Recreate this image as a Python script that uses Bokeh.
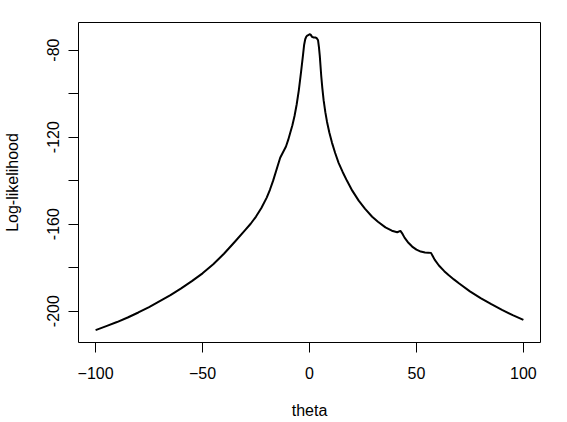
from bokeh.plotting import figure
from bokeh.models import Range1d, FixedTicker, ColumnDataSource
from bokeh.embed import file_html
from bokeh.resources import INLINE

# values
theta = [-100, -95, -90, -85, -80, -75, -70, -65, -60, -55, -50, -45, -40, -35,
         -30, -27.5, -25, -22.5, -20, -18.5, -17, -15, -13.7, -12.5, -11, -10, -9,
         -8, -7, -6, -5, -4, -3, -2.5, -2, -1.5, -1, -0.4, 0.2, 0.6, 1.2, 2, 2.7,
         3.4, 4.0, 4.4, 4.8, 5.5, 6.0, 6.6, 7.4, 8.2, 9.3, 10.5, 12, 13.6, 15.5,
         17.6, 20, 23, 26, 29.3, 32, 35.5, 38.5, 41, 42.5, 43.5, 44.5, 46, 48, 50,
         52, 54, 55.5, 56.8, 57.6, 58.5, 60.5, 63, 65, 67.5, 70, 75, 80, 85, 90,
         95, 100]
loglik = [-208.7, -206.9, -205.0, -202.9, -200.6, -198.1, -195.4, -192.6, -189.5,
          -186.2, -182.6, -178.4, -173.6, -168.2, -162.6, -159.8, -156.5, -152.6,
          -147.8, -144.2, -140.0, -133.6, -129.5, -127.2, -124.3, -121.4, -118.0,
          -114.5, -110.3, -105.0, -98.5, -90.5, -82.0, -77.5, -75.0, -73.8, -73.3,
          -73.0, -72.7, -73.0, -73.9, -74.2, -74.2, -74.5, -75.5, -78.5, -82.5,
          -92.0, -97.5, -103.0, -108.5, -113.0, -118.0, -122.5, -127.3, -131.8,
          -136.0, -140.2, -144.6, -149.2, -153.0, -156.6, -158.9, -161.5, -163.0,
          -163.7, -163.1, -164.5, -166.3, -168.3, -170.3, -171.7, -172.6, -173.0,
          -173.1, -173.2, -174.6, -176.3, -179.0, -181.6, -183.4, -185.4, -187.3,
          -190.9, -194.0, -196.8, -199.4, -201.8, -204.0]
x_ticks = [-100, -50, 0, 50, 100]
y_ticks = [-200, -180, -160, -140, -120, -100, -80]
y_labels = {-200: "-200", -180: "", -160: "-160", -140: "", -120: "-120", -100: "", -80: "-80"}

FONT = "Liberation Sans"

p = figure(width=567, height=422, output_backend="svg", toolbar_location=None,
           x_range=Range1d(-108, 108), y_range=Range1d(-214.4, -67.3),
           min_border_left=78, min_border_right=27, min_border_top=22, min_border_bottom=80)
p.grid.visible = False
p.outline_line_color = "black"
p.outline_line_width = 1
p.background_fill_color = "white"
p.border_fill_color = "white"

src = ColumnDataSource(dict(theta=theta, loglik=loglik))
p.line("theta", "loglik", source=src, line_color="black", line_width=2,
       line_join="round")

for ax in (p.xaxis[0], p.yaxis[0]):
    ax.axis_line_color = "black"
    ax.major_tick_line_color = "black"
    ax.major_tick_out = 10
    ax.major_tick_in = 0
    ax.minor_tick_out = 0
    ax.minor_tick_in = 0
    ax.major_label_text_font = FONT
    ax.major_label_text_font_size = "16px"
    ax.major_label_text_color = "black"
    ax.axis_label_text_font = FONT
    ax.axis_label_text_font_size = "16px"
    ax.axis_label_text_font_style = "normal"
    ax.axis_label_text_color = "black"

p.xaxis.ticker = FixedTicker(ticks=x_ticks)
p.xaxis.bounds = (-100, 100)
p.xaxis.axis_label = "theta"
p.xaxis.major_label_standoff = 14
p.xaxis.axis_label_standoff = 20

p.yaxis.ticker = FixedTicker(ticks=y_ticks)
p.yaxis.bounds = (-200, -80)
p.yaxis.major_label_overrides = y_labels
p.yaxis.major_label_orientation = "vertical"
p.yaxis.axis_label = "Log-likelihood"
p.yaxis.major_label_standoff = 9
p.yaxis.axis_label_standoff = 24

open("out.html", "w").write(file_html(p, INLINE))
